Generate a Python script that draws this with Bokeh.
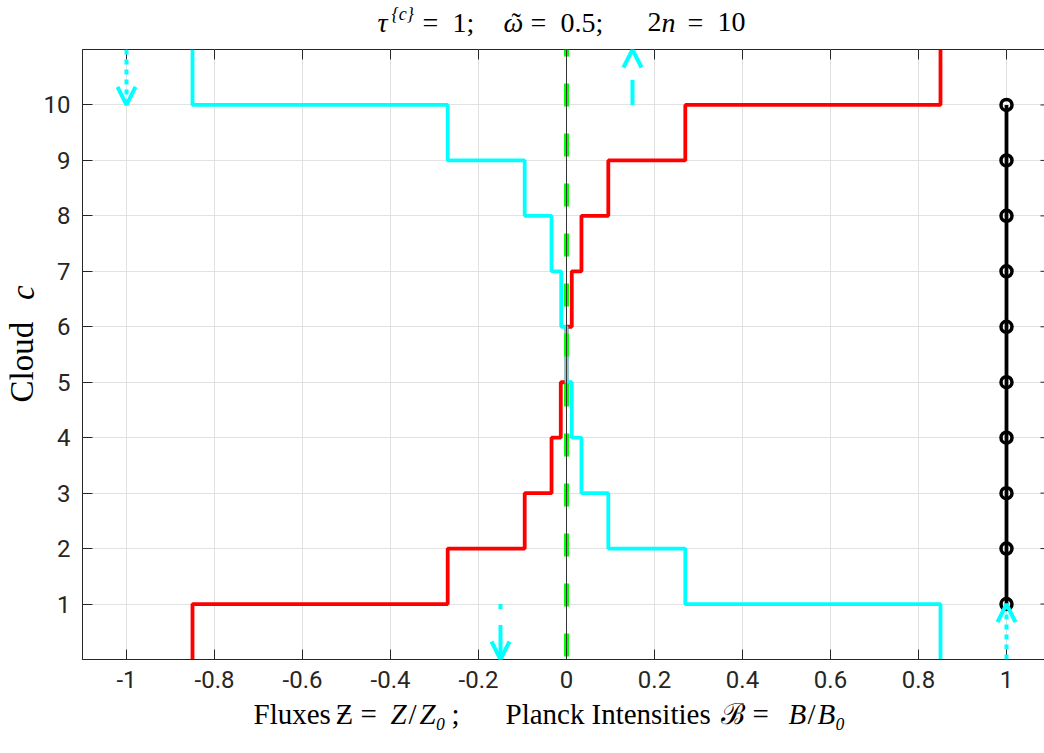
import math
from bokeh.plotting import figure
from bokeh.layouts import column, row
from bokeh.models import FixedTicker, PrintfTickFormatter, Arrow, OpenHead, Range1d
from bokeh.core.properties import value
from bokeh.embed import file_html
from bokeh.resources import INLINE

# ---------------- data ----------------
# cloud layer c occupies y in [c-1, c]
flux_up = [-0.85, -0.27, -0.095, -0.034, -0.013, 0.0, 0.012, 0.034, 0.095, 0.27, 0.85]     # red
flux_dn = [0.85, 0.27, 0.095, 0.034, 0.012, 0.0, -0.012, -0.034, -0.095, -0.27, -0.85]     # cyan
planck_levels = [1, 2, 3, 4, 5, 6, 7, 8, 9, 10]
planck_vals = [1.0, 1.0, 1.0, 1.0, 1.0, 1.0, 1.0, 1.0, 1.0, 1.0]
arrow_x = [-1.0, 0.15, -0.15, 1.0]
arrow_y0 = [11, 10, 1, 0]
arrow_y1 = [10, 11, 0, 1]
xticks = [-1, -0.8, -0.6, -0.4, -0.2, 0, 0.2, 0.4, 0.6, 0.8, 1]
yticks = [1, 2, 3, 4, 5, 6, 7, 8, 9, 10]

# ---------------- layout constants (canvas pixels) ----------------
W, H = 1044, 753
TITLE_H = 47
YLAB_W = 40
FRAME_L, FRAME_T = 81, 49
FW, FH = W - FRAME_L, 610
MAIN_BOTTOM = 38
MAIN_H = 2 + FH + MAIN_BOTTOM
XLAB_H = H - TITLE_H - MAIN_H

X0, X1 = -1.1, -1.1 + FW / 440.0
Y0, Y1 = 0, 11
PXX = FW / (X1 - X0)
PXY = FH / (Y1 - Y0)

AX = "#262626"
SERIF = "Liberation Serif"
TC = "#000000"
CYAN = "#00ffff"
BASE_FIX = 0.36   # em; renderer draws 'alphabetic' text this much lower
ROT_FIX = 0.43    # em; rotated 'middle' text drawn this much further along its run


def text_fig(w, h):
    f = figure(width=w, height=h, x_range=Range1d(0, w), y_range=Range1d(0, h),
               x_axis_type=None, y_axis_type=None, toolbar_location=None,
               output_backend="svg", min_border=0)
    f.outline_line_color = None
    f.title.visible = False
    f.background_fill_color = "white"
    f.border_fill_color = "white"
    return f


# ---------------- main plot ----------------
p = figure(frame_width=FW, frame_height=FH, min_border_left=FRAME_L - YLAB_W, min_border_right=0,
           min_border_top=2, min_border_bottom=MAIN_BOTTOM, output_backend="svg",
           toolbar_location=None, x_range=Range1d(X0, X1), y_range=Range1d(Y0, Y1))
p.title.visible = False
p.background_fill_color = "white"
p.border_fill_color = "white"
p.outline_line_color = AX
p.outline_line_alpha = 1.0

for ax, ticks, fmt in ((p.xaxis[0], xticks, "%g"), (p.yaxis[0], yticks, "%d")):
    ax.ticker = FixedTicker(ticks=ticks)
    ax.formatter = PrintfTickFormatter(format=fmt)
    ax.minor_tick_line_color = None
    ax.major_tick_in = 10
    ax.major_tick_out = 0
    ax.major_tick_line_color = AX
    ax.axis_line_color = AX
    ax.major_label_text_font = "Roboto"
    ax.major_label_text_font_size = "24px"
    ax.major_label_text_color = AX
p.xaxis.major_label_standoff = 11
p.yaxis.major_label_standoff = 12

p.grid.grid_line_color = "#e2e2e2"
p.grid.grid_line_width = 1

# box ticks on top and right (inward)
p.segment(x0=xticks, y0=[Y1 - 10 / PXY] * len(xticks), x1=xticks, y1=[Y1] * len(xticks),
          line_color=AX, line_width=1)
p.segment(x0=[X1 - 5 / PXX] * len(yticks), y0=yticks, x1=[X1] * len(yticks), y1=yticks,
          line_color=AX, line_width=1)


def step_path(vals):
    xs, ys = [], []
    for i, v in enumerate(vals):
        xs += [v, v]
        ys += [i, i + 1]
    return xs, ys


rx, ry = step_path(flux_up)
cx, cy = step_path(flux_dn)
p.line(rx, ry, line_color="#ff0000", line_width=3.8)
p.line(cx, cy, line_color=CYAN, line_width=3.8)

# zero reference lines
p.line([0, 0], [Y1, Y0], line_color="#00ff00", line_width=5, line_dash="23 27", line_dash_offset=16)
p.line([0, 0], [Y1, Y0], line_color="#333333", line_width=1)

# Planck intensities
p.line(planck_vals, planck_levels, line_color="black", line_width=3.8)
p.scatter(planck_vals, planck_levels, marker="circle", size=11, line_color="black",
          line_width=3.5, fill_color=None)

# boundary-condition arrows
arrow_dash = ["5 5", "25 40", "5 16 40 16", "5 5"]
for xa, ya, yb, dsh in zip(arrow_x, arrow_y0, arrow_y1, arrow_dash):
    p.add_layout(Arrow(end=OpenHead(size=18, line_color=CYAN, line_width=4),
                       x_start=xa, y_start=ya, x_end=xa, y_end=yb,
                       line_color=CYAN, line_width=4, line_dash=dsh))


def put(fig, fig_top, tokens, serif=SERIF):
    # tokens: (text, left x, baseline y in canvas px, font px, style)
    for t, sx, sy, fs, st in tokens:
        fig.text(x=[sx], y=[fig_top - sy + BASE_FIX * fs], text=[t], text_font=value(serif),
                 text_font_size=f"{fs}px", text_font_style=st, text_color=TC,
                 text_align="left", text_baseline="alphabetic")


# ---------------- title ----------------
tf = text_fig(W, TITLE_H)
put(tf, TITLE_H, [
    ("τ", 377, 32, 28, "italic"),
    ("{c}", 391, 20, 18, "italic"),
    ("=", 422, 32, 28, "normal"),
    ("1;", 452, 32, 28, "normal"),
    ("ω", 503, 32, 28, "italic"),
    ("˜", 511, 32, 28, "normal"),
    ("=", 530, 32, 28, "normal"),
    ("0.5;", 560, 32, 28, "normal"),
    ("2", 647, 32, 28, "normal"),
    ("n", 661, 32, 28, "italic"),
    ("=", 687, 32, 28, "normal"),
    ("10", 717, 32, 28, "normal"),
])

# ---------------- y label ----------------
yf = text_fig(YLAB_W, MAIN_H)
ybase = TITLE_H + MAIN_H
YFS = 33
for t, sx, sy, st in (("Cloud", 21, 366, "normal"), ("c", 22, 292, "italic")):
    yf.text(x=[sx], y=[ybase - sy - ROT_FIX * YFS], text=[t], angle=math.pi / 2,
            text_font=value(SERIF), text_font_size=f"{YFS}px", text_font_style=st,
            text_color=TC, text_align="center", text_baseline="middle")

# ---------------- x label ----------------
xf = text_fig(W, XLAB_H)
put(xf, H, [
    ("Fluxes", 253, 724, 29, "normal"),
    ("Ƶ", 335, 724, 29, "normal"),
    ("=", 360, 724, 29, "normal"),
    ("Z", 390, 724, 29, "italic"),
    ("/", 408, 724, 29, "normal"),
    ("Z₀", 419, 724, 29, "italic"),
    (";", 451, 724, 29, "normal"),
    ("Planck", 505, 724, 29, "normal"),
    ("Intensities", 591, 724, 29, "normal"),
    ("ℬ", 720, 724, 29, "normal"),
    ("=", 752, 724, 29, "normal"),
    ("B", 788, 724, 29, "italic"),
    ("/", 807, 724, 29, "normal"),
    ("B₀", 817, 724, 29, "italic"),
])

layout = column(tf, row(yf, p), xf)
open("out.html", "w").write(file_html(layout, INLINE))
